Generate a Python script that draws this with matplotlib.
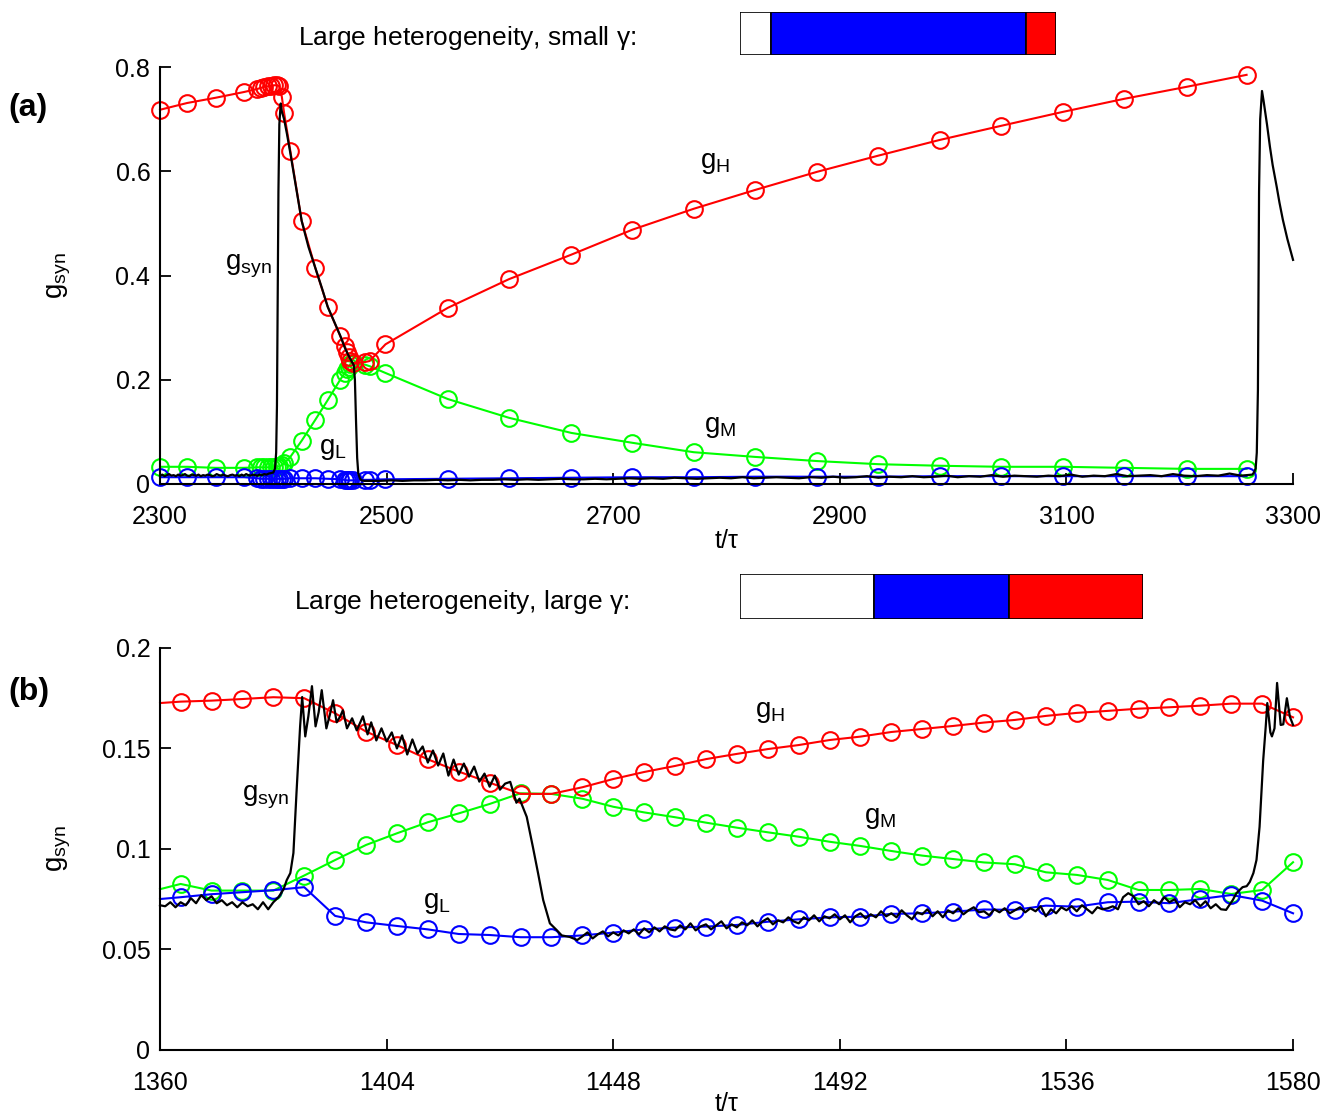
import numpy as np
import matplotlib
matplotlib.use('Agg')
import matplotlib.pyplot as plt

plt.rcParams['font.family'] = ['Liberation Sans', 'DejaVu Sans']
plt.rcParams['mathtext.fontset'] = 'custom'
plt.rcParams['mathtext.rm'] = 'Liberation Sans'

# ---- panel (a): large heterogeneity, small gamma ----
t_a = [2300, 2324, 2349, 2374, 2386, 2389, 2392, 2395, 2398, 2401, 2403, 2405,
       2407.5, 2409.5, 2415, 2425, 2437, 2448, 2459, 2463, 2465, 2466.5, 2468, 2470,
       2481, 2485, 2499, 2554, 2608, 2663, 2717, 2771, 2825, 2880, 2934, 2988,
       3042, 3097, 3151, 3206, 3259]
gH_a = [0.718, 0.731, 0.741, 0.752, 0.758, 0.760, 0.762, 0.763, 0.764, 0.765, 0.765, 0.764,
        0.743, 0.712, 0.639, 0.505, 0.415, 0.340, 0.284, 0.265, 0.253, 0.244, 0.236, 0.232,
        0.234, 0.236, 0.268, 0.338, 0.393, 0.440, 0.488, 0.528, 0.564, 0.599, 0.630, 0.660,
        0.687, 0.714, 0.739, 0.762, 0.785]
gM_a = [0.033, 0.033, 0.031, 0.031, 0.032, 0.032, 0.032, 0.032, 0.032, 0.033, 0.033, 0.034,
        0.036, 0.040, 0.052, 0.083, 0.123, 0.161, 0.200, 0.213, 0.220, 0.225, 0.230, 0.232,
        0.229, 0.226, 0.213, 0.163, 0.127, 0.098, 0.079, 0.061, 0.052, 0.044, 0.038, 0.035,
        0.033, 0.033, 0.031, 0.029, 0.029]
gL_a = [0.013, 0.013, 0.013, 0.013, 0.011, 0.010, 0.010, 0.010, 0.010, 0.010, 0.010, 0.010,
        0.010, 0.010, 0.011, 0.011, 0.011, 0.010, 0.009, 0.008, 0.007, 0.007, 0.007, 0.007,
        0.008, 0.008, 0.009, 0.010, 0.011, 0.012, 0.013, 0.013, 0.014, 0.014, 0.014, 0.015,
        0.015, 0.015, 0.015, 0.015, 0.015]

# total synaptic conductance, piece by piece
syn_a_t1 = np.arange(2300, 2399, 2)
syn_a_1 = [0.016, 0.018, 0.015, 0.017, 0.019, 0.016, 0.017, 0.015, 0.018, 0.016,
           0.017, 0.019, 0.016, 0.015, 0.018, 0.017, 0.016, 0.018, 0.015, 0.017,
           0.016, 0.018, 0.017, 0.015, 0.016, 0.019, 0.017, 0.016, 0.018, 0.016,
           0.015, 0.017, 0.018, 0.016, 0.017, 0.015, 0.018, 0.016, 0.019, 0.017,
           0.016, 0.018, 0.017, 0.016, 0.018, 0.017, 0.019, 0.018, 0.020, 0.021]
syn_a_t2 = [2400, 2401.5, 2402.5, 2403.2, 2403.8, 2404.5, 2405.3, 2406.5, 2407.5, 2409.5,
            2412, 2415, 2420, 2425, 2431, 2437, 2443, 2448, 2454, 2459,
            2463, 2466, 2469, 2471, 2472, 2473, 2474, 2475, 2476.5, 2478, 2480]
syn_a_2 = [0.022, 0.030, 0.060, 0.150, 0.350, 0.560, 0.690, 0.730, 0.715, 0.700,
           0.672, 0.635, 0.570, 0.505, 0.455, 0.415, 0.375, 0.340, 0.310, 0.285,
           0.262, 0.248, 0.236, 0.228, 0.200, 0.120, 0.050, 0.020, 0.010, 0.007, 0.006]
syn_a_t3 = np.arange(2484, 3265, 10)
syn_a_3 = [0.006, 0.006, 0.007, 0.006, 0.007, 0.007, 0.008, 0.007, 0.008, 0.007,
           0.008, 0.008, 0.009, 0.008, 0.009, 0.008, 0.009, 0.010, 0.009, 0.009,
           0.010, 0.009, 0.010, 0.011, 0.010, 0.011, 0.010, 0.012, 0.011, 0.010,
           0.011, 0.012, 0.011, 0.013, 0.011, 0.012, 0.013, 0.012, 0.011, 0.013,
           0.012, 0.014, 0.012, 0.013, 0.015, 0.012, 0.014, 0.013, 0.015, 0.013,
           0.014, 0.016, 0.013, 0.015, 0.014, 0.017, 0.014, 0.016, 0.015, 0.014,
           0.016, 0.015, 0.018, 0.014, 0.016, 0.015, 0.019, 0.015, 0.016, 0.017,
           0.015, 0.019, 0.016, 0.015, 0.017, 0.016, 0.020, 0.016, 0.018]
syn_a_t4 = [3265.5, 3267, 3268, 3269, 3269.5, 3270, 3271, 3272.6, 3274, 3275.5,
            3277, 3279.6, 3282, 3285.6, 3288, 3291, 3295, 3300]
syn_a_4 = [0.022, 0.030, 0.060, 0.180, 0.370, 0.560, 0.700, 0.754, 0.735, 0.712,
           0.690, 0.647, 0.612, 0.570, 0.540, 0.507, 0.470, 0.430]

# ---- panel (b): large heterogeneity, large gamma ----
t_b = np.concatenate(([1360], np.arange(1364, 1581, 6)))
gH_b = [0.1726,
        0.1733, 0.1738, 0.1746, 0.1755, 0.1750, 0.1675, 0.1584, 0.1517, 0.1446, 0.1385,
        0.1330, 0.1274, 0.1274, 0.1307, 0.1348, 0.1383, 0.1413, 0.1447, 0.1473, 0.1497,
        0.1517, 0.1542, 0.1559, 0.1582, 0.1597, 0.1612, 0.1629, 0.1642, 0.1662, 0.1677,
        0.1687, 0.1698, 0.1705, 0.1713, 0.1723, 0.1723, 0.1655]
gM_b = [0.0800,
        0.0826, 0.0793, 0.0793, 0.0793, 0.0868, 0.0945, 0.1020, 0.1078, 0.1133, 0.1177,
        0.1224, 0.1277, 0.1274, 0.1250, 0.1210, 0.1182, 0.1158, 0.1131, 0.1106, 0.1083,
        0.1061, 0.1036, 0.1015, 0.0990, 0.0967, 0.0950, 0.0933, 0.0924, 0.0884, 0.0871,
        0.0846, 0.0796, 0.0796, 0.0801, 0.0776, 0.0796, 0.0934]
gL_b = [0.0751,
        0.0760, 0.0775, 0.0785, 0.0795, 0.0810, 0.0667, 0.0635, 0.0617, 0.0600, 0.0577,
        0.0572, 0.0561, 0.0561, 0.0570, 0.0584, 0.0600, 0.0609, 0.0614, 0.0622, 0.0638,
        0.0650, 0.0660, 0.0663, 0.0677, 0.0680, 0.0688, 0.0699, 0.0697, 0.0718, 0.0713,
        0.0735, 0.0738, 0.0730, 0.0751, 0.0771, 0.0743, 0.0680]

syn_b_t1 = np.arange(1360, 1385)
syn_b_1 = [0.0720, 0.0715, 0.0735, 0.0710, 0.0735, 0.0720, 0.0755, 0.0730, 0.0770, 0.0745,
           0.0765, 0.0730, 0.0745, 0.0720, 0.0735, 0.0710, 0.0735, 0.0715, 0.0725, 0.0700,
           0.0735, 0.0700, 0.0735, 0.0760, 0.0800]
syn_b_t2 = [1384.6, 1385.3, 1385.9, 1386.5, 1387.2, 1387.6, 1388.2, 1388.8, 1389.5, 1390.2,
            1390.8, 1391.4, 1392.3, 1393.0, 1393.6, 1394.3, 1395.0, 1395.5, 1396.3, 1397.3,
            1398.2, 1399.4, 1400.3]
syn_b_2 = [0.0845, 0.088, 0.098, 0.128, 0.161, 0.1756, 0.156, 0.166, 0.181, 0.161,
           0.168, 0.179, 0.160, 0.167, 0.174, 0.163, 0.166, 0.169, 0.160, 0.165,
           0.159, 0.166, 0.157]
syn_b_t3 = np.arange(1401, 1429)
syn_b_3 = [0.163, 0.154, 0.160, 0.1535, 0.158, 0.150, 0.1565, 0.147, 0.1545, 0.1475,
           0.151, 0.143, 0.149, 0.1415, 0.1475, 0.1365, 0.1445, 0.137, 0.1425, 0.136,
           0.141, 0.1335, 0.1375, 0.131, 0.1365, 0.1295, 0.1325, 0.1334]
syn_b_t4 = [1429.2, 1429.8, 1431.2, 1432.4, 1433.4, 1434.4, 1435.7, 1437, 1438, 1439.6, 1441]
syn_b_4 = [0.123, 0.125, 0.116, 0.101, 0.088, 0.0746, 0.063, 0.0597, 0.057, 0.0562, 0.0547]
syn_b_t5 = np.arange(1442, 1568)
syn_b_5 = [0.0565, 0.0585, 0.0555, 0.0575, 0.0590, 0.0565,
           0.0585, 0.0570, 0.0595, 0.0580, 0.0600, 0.0575,
           0.0605, 0.0585, 0.0610, 0.0590, 0.0615, 0.0600,
           0.0595, 0.0620, 0.0600, 0.0630, 0.0595, 0.0615,
           0.0625, 0.0600, 0.0620, 0.0640, 0.0605, 0.0625,
           0.0610, 0.0635, 0.0620, 0.0645, 0.0615, 0.0640,
           0.0655, 0.0625, 0.0645, 0.0635, 0.0660, 0.0640,
           0.0630, 0.0660, 0.0645, 0.0670, 0.0640, 0.0665,
           0.0655, 0.0675, 0.0650, 0.0670, 0.0635, 0.0665,
           0.0680, 0.0655, 0.0675, 0.0660, 0.0690, 0.0665,
           0.0680, 0.0660, 0.0695, 0.0670, 0.0650, 0.0685,
           0.0675, 0.0700, 0.0665, 0.0690, 0.0660, 0.0695,
           0.0680, 0.0705, 0.0675, 0.0695, 0.0710, 0.0685,
           0.0690, 0.0670, 0.0700, 0.0685, 0.0705, 0.0680,
           0.0695, 0.0710, 0.0685, 0.0705, 0.0690, 0.0715,
           0.0665, 0.0700, 0.0680, 0.0710, 0.0695, 0.0715,
           0.0690, 0.0720, 0.0700, 0.0680, 0.0710, 0.0700,
           0.0705, 0.0715, 0.0700, 0.0760, 0.0780, 0.0765,
           0.0725, 0.0740, 0.0715, 0.0745, 0.0725, 0.0760,
           0.0735, 0.0750, 0.0710, 0.0735, 0.0725, 0.0745,
           0.0715, 0.0740, 0.0705, 0.0725, 0.0700, 0.0697]
syn_b_t6 = [1568.3, 1569, 1570.2, 1571, 1571.6, 1572.3, 1572.9, 1573.5, 1574.2, 1574.7,
            1575, 1575.6, 1575.9, 1576.4, 1576.9, 1577.6, 1578.1, 1578.8, 1579.4, 1580]
syn_b_6 = [0.0746, 0.078, 0.081, 0.0815, 0.0836, 0.088, 0.0945, 0.111, 0.144, 0.161,
           0.1726, 0.158, 0.156, 0.160, 0.1826, 0.1617, 0.162, 0.175, 0.1657, 0.1617]

# fraction of the cycle spent in each phase (white, blue, red)
phase_a = [0.098, 0.807, 0.095]
phase_b = [0.333, 0.334, 0.333]

t_syn_a = np.concatenate([syn_a_t1, syn_a_t2, syn_a_t3, syn_a_t4])
g_syn_a = np.concatenate([syn_a_1, syn_a_2, syn_a_3, syn_a_4])
t_syn_b = np.concatenate([syn_b_t1, syn_b_t2, syn_b_t3, syn_b_t4, syn_b_t5, syn_b_t6])
g_syn_b = np.concatenate([syn_b_1, syn_b_2, syn_b_3, syn_b_4, syn_b_5, syn_b_6])

fig = plt.figure(figsize=(13.38, 11.17), dpi=100)
ax_a = fig.add_axes([0.1196, 0.5667, 0.8468, 0.3733])
ax_b = fig.add_axes([0.1196, 0.0600, 0.8468, 0.3599])

mk = dict(marker='o', mfc='none', ms=12, mew=1.5, lw=1.5, clip_on=False)


def draw_panel(ax, t, gH, gM, gL, ts, gs, skip):
    ax.plot(t, gM, color=(0, 1, 0), markevery=slice(skip, None), **mk)
    ax.plot(t, gH, color=(1, 0, 0), markevery=slice(skip, None), **mk)
    ax.plot(t, gL, color=(0, 0, 1), markevery=slice(skip, None), **mk)
    ax.plot(ts, gs, color='k', lw=1.6, clip_on=False)
    for s in ['top', 'right']:
        ax.spines[s].set_visible(False)
    for s in ['left', 'bottom']:
        ax.spines[s].set_linewidth(1.5)
    ax.tick_params(direction='in', length=8, width=1.3, labelsize=18)
    ax.tick_params(axis='y', pad=7)
    ax.tick_params(axis='x', pad=15)
    ax.set_xlabel(r'$\mathregular{t/\tau}$', fontsize=18)
    ax.set_ylabel(r'$\mathregular{g_{syn}}$', fontsize=20)
    ax.yaxis.set_label_coords(-0.077, 0.5)


draw_panel(ax_a, t_a, gH_a, gM_a, gL_a, t_syn_a, g_syn_a, 0)
ax_a.set_xlim(2300, 3300)
ax_a.set_ylim(0, 0.8)
ax_a.set_xticks([2300, 2500, 2700, 2900, 3100, 3300])
ax_a.set_yticks([0, 0.2, 0.4, 0.6, 0.8])
ax_a.set_yticklabels(['0', '0.2', '0.4', '0.6', '0.8'])
ax_a.xaxis.set_label_coords(0.5, -0.108)

draw_panel(ax_b, t_b, gH_b, gM_b, gL_b, t_syn_b, g_syn_b, 1)
ax_b.set_xlim(1360, 1580)
ax_b.set_ylim(0, 0.2)
ax_b.set_xticks([1360, 1404, 1448, 1492, 1536, 1580])
ax_b.set_yticks([0, 0.05, 0.1, 0.15, 0.2])
ax_b.set_yticklabels(['0', '0.05', '0.1', '0.15', '0.2'])
ax_b.xaxis.set_label_coords(0.5, -0.105)

# curve labels
lab = dict(fontsize=20, ha='center', va='center')
ax_a.text(2790, 0.616, r'$\mathregular{g_H}$', **lab)
ax_a.text(2794, 0.109, r'$\mathregular{g_M}$', **lab)
ax_a.text(2453, 0.067, r'$\mathregular{g_L}$', **lab)
ax_a.text(2378, 0.418, r'$\mathregular{g_{syn}}$', **lab)
ax_b.text(1478.4, 0.168, r'$\mathregular{g_H}$', **lab)
ax_b.text(1499.8, 0.1154, r'$\mathregular{g_M}$', **lab)
ax_b.text(1413.8, 0.0731, r'$\mathregular{g_L}$', **lab)
ax_b.text(1380.4, 0.1259, r'$\mathregular{g_{syn}}$', **lab)

fig.text(0.006, 0.903, '(a)', fontsize=23, fontweight='bold', va='center')
fig.text(0.006, 0.3805, '(b)', fontsize=23, fontweight='bold', va='center')

fig.text(0.349, 0.966, r'Large heterogeneity, small $\mathregular{\gamma}$:', fontsize=19,
         ha='center', va='center')
fig.text(0.345, 0.461, r'Large heterogeneity, large $\mathregular{\gamma}$:', fontsize=19,
         ha='center', va='center')


# phase bars above each panel
def phase_bar(rect, fracs):
    bx = fig.add_axes(rect)
    left = 0
    for f, c in zip(fracs, ['white', 'blue', 'red']):
        bx.barh(0, f, left=left, height=1, color=c, edgecolor='k', linewidth=1.2)
        left += f
    bx.set_xlim(0, sum(fracs))
    bx.set_ylim(-0.5, 0.5)
    bx.axis('off')


phase_bar([0.5531, 0.9508, 0.2362, 0.0385], phase_a)
phase_bar([0.5531, 0.4458, 0.3012, 0.0403], phase_b)

fig.savefig('out.png', dpi=100)
